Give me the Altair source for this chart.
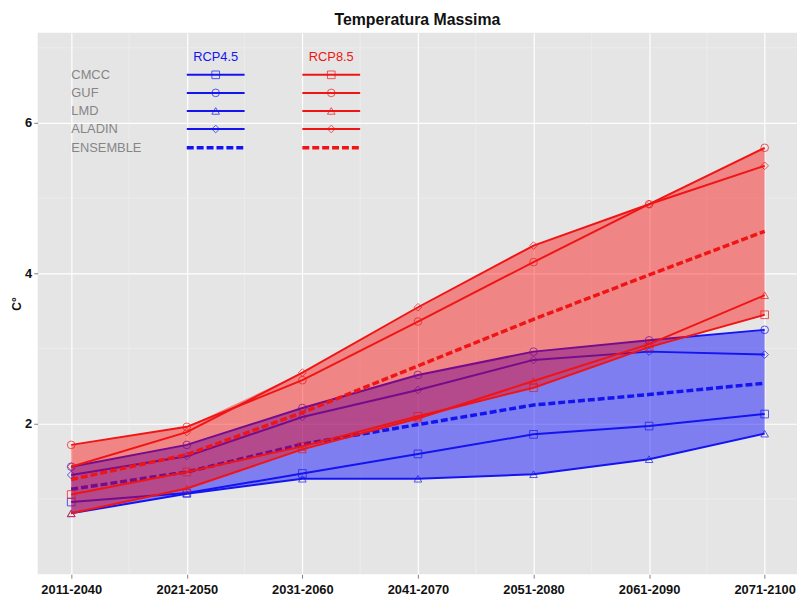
import json
import altair as alt
import pandas as pd

# ---------------- data ----------------
periods = ["2011-2040", "2021-2050", "2031-2060", "2041-2070",
           "2051-2080", "2061-2090", "2071-2100"]
models = ["CMCC", "GUF", "LMD", "ALADIN"]
scenarios = ["RCP4.5", "RCP8.5"]

rcp45_cmcc = [0.96, 1.08, 1.34, 1.60, 1.86, 1.97, 2.13]
rcp45_guf = [1.43, 1.72, 2.21, 2.65, 2.96, 3.11, 3.25]
rcp45_lmd = [0.81, 1.07, 1.27, 1.27, 1.33, 1.53, 1.87]
rcp45_aladin = [1.32, 1.57, 2.09, 2.45, 2.85, 2.96, 2.92]
rcp45_ensemble = [1.13, 1.36, 1.73, 1.99, 2.25, 2.39, 2.54]

rcp85_cmcc = [1.06, 1.36, 1.70, 2.10, 2.48, 3.02, 3.45]
rcp85_guf = [1.72, 1.96, 2.58, 3.36, 4.15, 4.92, 5.67]
rcp85_lmd = [0.81, 1.14, 1.66, 2.07, 2.57, 3.06, 3.71]
rcp85_aladin = [1.43, 1.89, 2.68, 3.55, 4.37, 4.92, 5.43]
rcp85_ensemble = [1.26, 1.59, 2.15, 2.77, 3.39, 3.98, 4.56]

y_ticks = [2, 4, 6]
y_minor = [1, 3, 5, 7]

series = {
    "RCP4.5": {"CMCC": rcp45_cmcc, "GUF": rcp45_guf, "LMD": rcp45_lmd, "ALADIN": rcp45_aladin},
    "RCP8.5": {"CMCC": rcp85_cmcc, "GUF": rcp85_guf, "LMD": rcp85_lmd, "ALADIN": rcp85_aladin},
}
ensembles = {"RCP4.5": rcp45_ensemble, "RCP8.5": rcp85_ensemble}

rows = []
for s in scenarios:
    for m in models:
        for i, v in enumerate(series[s][m]):
            rows.append({"scenario": s, "model": m, "idx": i, "value": v})
df = pd.DataFrame(rows)

erows = []
for s in scenarios:
    for i, v in enumerate(ensembles[s]):
        erows.append({"scenario": s, "idx": i, "value": v})
edf = pd.DataFrame(erows)

# legend table (layout in data units of the plot)
leg_rows_y = [6.64, 6.40, 6.16, 5.92, 5.67]
leg_names = models + ["ENSEMBLE"]
leg_x = {"RCP4.5": (1.0, 1.5), "RCP8.5": (2.0, 2.5)}
leg = []
for s in scenarios:
    for n, yv in zip(leg_names, leg_rows_y):
        x0, x1 = leg_x[s]
        leg.append({"scenario": s, "model": n, "x0": x0, "x1": x1,
                    "xm": (x0 + x1) / 2, "y": yv})
legdf = pd.DataFrame(leg)
labdf = pd.DataFrame({"name": leg_names, "y": leg_rows_y})
headdf = pd.DataFrame({"scenario": scenarios,
                       "xm": [sum(leg_x[s]) / 2 for s in scenarios],
                       "y": [6.87, 6.87]})

# ---------------- encodings ----------------
FONT = "Liberation Sans"
BLUE = "#1414f0"
RED = "#f01414"

xscale = alt.Scale(domain=[-0.29, 6.28], nice=False, zero=False)
yscale = alt.Scale(domain=[0.0, 7.2], nice=False, zero=False)
color_scale = alt.Scale(domain=scenarios, range=[BLUE, RED])
shape_scale = alt.Scale(domain=models, range=["square", "circle", "triangle-up", "diamond"])

label_expr = json.dumps(periods) + "[round(datum.value)]"

x_axis = alt.Axis(values=list(range(len(periods))), labelExpr=label_expr, title=None,
                  grid=True, gridColor="white", gridWidth=1.2, domain=False,
                  tickColor="#7f7f7f", tickSize=4, labelPadding=5,
                  labelFont=FONT, labelFontSize=13, labelFontWeight="bold",
                  labelColor="#111111")
y_axis = alt.Axis(values=y_ticks, title="C°", grid=True, gridColor="white", gridWidth=1.2,
                  domain=False, tickColor="#7f7f7f", tickSize=4, labelPadding=2,
                  labelFont=FONT, labelFontSize=13, labelFontWeight="bold",
                  labelColor="#111111", titleFont=FONT, titleFontSize=12,
                  titleFontWeight="bold", titleColor="#111111", titlePadding=1)

X = alt.X("idx:Q", scale=xscale, axis=x_axis)
Y = alt.Y("value:Q", scale=yscale, axis=y_axis)
C = alt.Color("scenario:N", scale=color_scale, legend=None)
SH = alt.Shape("model:N", scale=shape_scale, legend=None)

base = alt.Chart(df)

# minor grid
minor_y = alt.Chart(pd.DataFrame({"v": y_minor})).mark_rule(
    color="#f2f2f2", strokeWidth=0.6).encode(
    y=alt.Y("v:Q", scale=yscale, axis=y_axis))
minor_x = alt.Chart(pd.DataFrame({"v": [i + 0.5 for i in range(len(periods) - 1)]})).mark_rule(
    color="#f2f2f2", strokeWidth=0.6).encode(
    x=alt.X("v:Q", scale=xscale, axis=x_axis))


def scenario_layers(s, fill, opacity):
    sub = base.transform_filter(alt.datum.scenario == s)
    ribbon = sub.transform_aggregate(
        lo="min(value)", hi="max(value)", groupby=["idx"]
    ).mark_area(color=fill, opacity=opacity).encode(
        x=X, y=alt.Y("lo:Q", scale=yscale, axis=y_axis), y2="hi:Q")
    lines = sub.mark_line(strokeWidth=2).encode(x=X, y=Y, color=C, detail="model:N")
    pts = sub.mark_point(filled=False, size=60, strokeWidth=1).encode(
        x=X, y=Y, color=C, shape=SH)
    ens = alt.Chart(edf).transform_filter(alt.datum.scenario == s).mark_line(
        strokeWidth=3.5, strokeDash=[7, 3]).encode(x=X, y=Y, color=C)
    return [ribbon, lines, pts, ens]


blue_layers = scenario_layers("RCP4.5", "#0000ff", 0.45)
red_layers = scenario_layers("RCP8.5", "#ff0000", 0.42)

# legend
lg = alt.Chart(legdf)
leg_lines = lg.transform_filter(alt.datum.model != "ENSEMBLE").mark_rule(strokeWidth=2).encode(
    x=alt.X("x0:Q", scale=xscale, axis=x_axis), x2="x1:Q",
    y=alt.Y("y:Q", scale=yscale, axis=y_axis), color=C)
leg_ens = lg.transform_filter(alt.datum.model == "ENSEMBLE").mark_rule(
    strokeWidth=3.5, strokeDash=[7, 3]).encode(
    x=alt.X("x0:Q", scale=xscale, axis=x_axis), x2="x1:Q",
    y=alt.Y("y:Q", scale=yscale, axis=y_axis), color=C)
leg_pts = lg.transform_filter(alt.datum.model != "ENSEMBLE").mark_point(
    filled=False, size=60, strokeWidth=1).encode(
    x=alt.X("xm:Q", scale=xscale, axis=x_axis),
    y=alt.Y("y:Q", scale=yscale, axis=y_axis), color=C, shape=SH)
leg_labels = alt.Chart(labdf).mark_text(
    align="left", baseline="middle", font=FONT, fontSize=13, color="#858585").encode(
    x=alt.value(34), y=alt.Y("y:Q", scale=yscale, axis=y_axis), text="name:N")
leg_heads = alt.Chart(headdf).mark_text(
    align="center", baseline="middle", font=FONT, fontSize=13).encode(
    x=alt.X("xm:Q", scale=xscale, axis=x_axis),
    y=alt.Y("y:Q", scale=yscale, axis=y_axis), text="scenario:N", color=C)

chart = alt.layer(
    minor_y, minor_x, *blue_layers, *red_layers,
    leg_lines, leg_ens, leg_pts, leg_labels, leg_heads
).properties(
    width=767, height=547,
    title=alt.TitleParams("Temperatura Massima", font=FONT, fontSize=16, fontWeight="bold",
                          color="#111111", anchor="middle", offset=4),
    autosize=alt.AutoSizeParams(type="none"),
    padding={"left": 30, "top": 22, "right": 4, "bottom": 19},
).configure_view(
    fill="#e5e5e5", strokeWidth=0
)

chart.save("out.html", embed_options={"renderer": "svg", "actions": False})
